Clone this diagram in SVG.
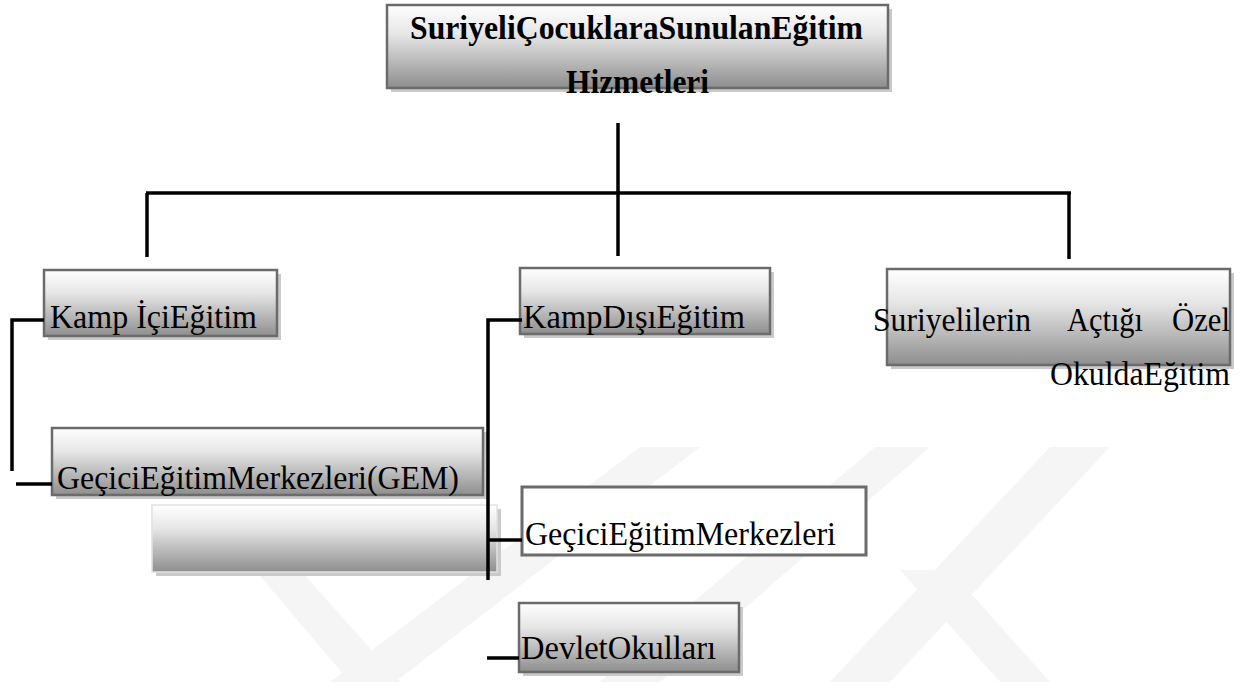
<svg xmlns="http://www.w3.org/2000/svg" width="1243" height="682" viewBox="0 0 1243 682">
<defs>
<linearGradient id="g" x1="0" y1="0" x2="0" y2="1">
<stop offset="0" stop-color="#ffffff"/>
<stop offset="0.35" stop-color="#e6e6e6"/>
<stop offset="1" stop-color="#8e8e8e"/>
</linearGradient>
<style>
.box{fill:url(#g);stroke:#6b6b6b;stroke-width:2.5}
.sh{fill:#cacaca}
.plain{fill:#ffffff;stroke:#6b6b6b;stroke-width:3}
.t{font-family:"Liberation Serif","Times New Roman",serif;font-size:34px;fill:#000}
.b{font-weight:bold;font-size:33px}
.c{stroke:#000;fill:none;stroke-width:3.5}
.wm{fill:#f5f5f5}
</style>
</defs>
<rect width="1243" height="682" fill="#ffffff"/>
<g id="watermark">
<polygon class="wm" points="330,682 395,682 700,447 640,447"/>
<polygon class="wm" points="255,570 300,570 400,682 350,682"/>
<polygon class="wm" points="600,682 660,682 930,447 875,447"/>
<polygon class="wm" points="830,682 890,682 1110,447 1050,447"/>
<polygon class="wm" points="900,570 950,570 1050,682 1000,682"/>
</g>
<g id="n-root">
<rect class="sh" x="391" y="9" width="501" height="83"/>
<rect class="box" x="387" y="5" width="501" height="83"/>
<text class="t b" x="410" y="39" textLength="453" lengthAdjust="spacingAndGlyphs">SuriyeliÇocuklaraSunulanEğitim</text>
<text class="t b" x="566" y="93" textLength="143" lengthAdjust="spacingAndGlyphs">Hizmetleri</text>
</g>
<g id="n-kampici">
<rect class="sh" x="48" y="274" width="233" height="66"/>
<rect class="box" x="44" y="270" width="233" height="66"/>
<text class="t" x="50" y="328" textLength="207" lengthAdjust="spacingAndGlyphs">Kamp İçiEğitim</text>
</g>
<g id="n-kampdisi">
<rect class="sh" x="524" y="272" width="250" height="66"/>
<rect class="box" x="520" y="268" width="250" height="66"/>
<text class="t" x="523" y="328" textLength="222" lengthAdjust="spacingAndGlyphs">KampDışıEğitim</text>
</g>
<g id="n-ozel">
<rect class="sh" x="891" y="273" width="343" height="96"/>
<rect class="box" x="887" y="269" width="343" height="96"/>
<text class="t"><tspan x="873" y="331" textLength="158" lengthAdjust="spacingAndGlyphs">Suriyelilerin</tspan><tspan x="1067" y="331" textLength="76" lengthAdjust="spacingAndGlyphs">Açtığı</tspan><tspan x="1172" y="331" textLength="58" lengthAdjust="spacingAndGlyphs">Özel</tspan><tspan x="1050" y="385" textLength="180" lengthAdjust="spacingAndGlyphs">OkuldaEğitim</tspan></text>
</g>
<g id="n-gem">
<rect class="sh" x="56" y="432" width="431" height="67"/>
<rect class="box" x="52" y="428" width="431" height="67"/>
<text class="t" x="57" y="489" textLength="402" lengthAdjust="spacingAndGlyphs">GeçiciEğitimMerkezleri(GEM)</text>
</g>
<g id="n-empty">
<rect class="sh" x="156" y="509" width="345" height="67"/>
<rect x="152" y="505" width="345" height="67" fill="url(#g)" stroke="#e2e2e2" stroke-width="1.5"/>
</g>
<g id="n-gem2">
<rect class="plain" x="522" y="487" width="344" height="68"/>
<text class="t" x="525" y="545" textLength="311" lengthAdjust="spacingAndGlyphs">GeçiciEğitimMerkezleri</text>
</g>
<g id="n-devlet">
<rect class="sh" x="523" y="607" width="220" height="69"/>
<rect class="box" x="519" y="603" width="220" height="69"/>
<text class="t" x="521" y="659" textLength="195" lengthAdjust="spacingAndGlyphs">DevletOkulları</text>
</g>
<g id="connectors">
<path class="c" d="M618,123 V193"/>
<path class="c" d="M146,193 H1071" stroke-width="5"/>
<path class="c" d="M147,193 V257"/>
<path class="c" d="M618,193 V256"/>
<path class="c" d="M1069,193 V259"/>
<path class="c" d="M44,320 H12 V471"/>
<path class="c" d="M16,484 H52"/>
<path class="c" d="M522,320 H488 V580"/>
<path class="c" d="M488,540 H522" stroke-width="5"/>
<path class="c" d="M487,658 H519"/>
</g>
</svg>
